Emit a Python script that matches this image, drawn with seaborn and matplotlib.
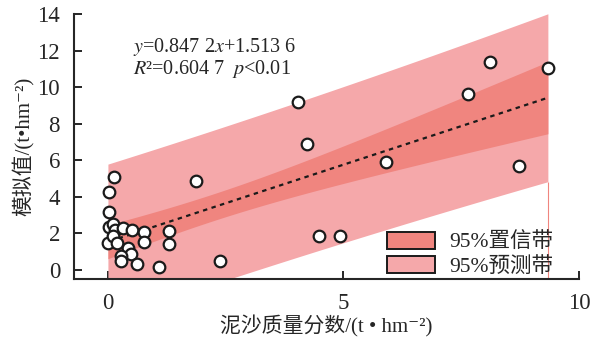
import numpy as np
import pandas as pd
import matplotlib
matplotlib.use("Agg")
import matplotlib.pyplot as plt
from matplotlib.patches import Patch
import seaborn as sns

# sediment mass fraction (x) vs simulated value (y)
sediment = [0.13, 0.03, 0.03, 0.03, 0.10, 0.15, 0.32, 0.52, 0.77, 1.29,
            0.01, 0.10, 0.20, 0.77, 1.29, 0.43, 0.48, 0.27, 0.27, 0.62,
            1.08, 2.37, 1.86, 4.04, 4.23, 5.90, 4.48, 4.93, 8.12, 9.34,
            7.65, 8.72]
simulated = [5.07, 4.25, 3.19, 2.36, 2.51, 2.20, 2.29, 2.18, 2.09, 2.14,
             1.50, 1.87, 1.50, 1.55, 1.41, 1.19, 0.86, 0.77, 0.49, 0.35,
             0.18, 0.49, 4.89, 9.19, 6.91, 5.93, 1.83, 1.83, 11.39, 11.03,
             9.62, 5.71]
legend_labels = ["95%置信带", "95%预测带"]
eq_text = r"$y$=0.847 2$x$+1.513 6"
r2_text = r"$R$²=0.604 7  $p$<0.01"

df = pd.DataFrame({"x": sediment, "y": simulated})

# OLS fit and 95% confidence / prediction bands
x = df["x"].to_numpy()
y = df["y"].to_numpy()
n = len(x)
slope, icpt = np.polyfit(x, y, 1)
resid = y - (slope * x + icpt)
s = np.sqrt(np.sum(resid ** 2) / (n - 2))
sxx = np.sum((x - x.mean()) ** 2)
try:
    from scipy import stats
    tval = stats.t.ppf(0.975, n - 2)
except ImportError:
    tval = 2.042
xs = np.linspace(0, x.max(), 200)
yhat = slope * xs + icpt
ci = tval * s * np.sqrt(1 / n + (xs - x.mean()) ** 2 / sxx)
pi = tval * s * np.sqrt(1 + 1 / n + (xs - x.mean()) ** 2 / sxx)
fit = pd.DataFrame({"x": xs, "y": yhat})

sns.set_style("ticks")
fam = ["Liberation Serif", "DejaVu Sans", "Noto Sans CJK SC"]
plt.rcParams["font.family"] = fam
plt.rcParams["mathtext.fontset"] = "stix"

ci_col = "#f0857f"
pi_col = "#f5a8aa"

fig = plt.figure(figsize=(5.92, 3.42), dpi=100)
ax = fig.add_axes([0.125, 0.184, 0.853, 0.775])

ax.fill_between(xs, yhat - pi, yhat + pi, color=pi_col, lw=0, zorder=1)
ax.fill_between(xs, yhat - ci, yhat + ci, color=ci_col, lw=0, zorder=2)
ax.vlines(x.max(), -0.5, (yhat - pi)[-1], color=ci_col, lw=0.8, zorder=1)

sns.lineplot(data=fit[fit["x"] >= x.min()], x="x", y="y", ax=ax, color="#1a1a1a",
             lw=1.6, linestyle=(0, (2, 2)), zorder=3)
sns.scatterplot(data=df, x="x", y="y", ax=ax, s=70, color="white",
                edgecolor="#1a1a1a", linewidth=1.6, zorder=4)

ax.set_xlim(-0.72, 10)
ax.set_ylim(-0.5, 14)
ax.set_xticks([0, 5, 10])
ax.set_yticks(range(0, 15, 2))
ax.tick_params(direction="in", length=6, width=1.4, labelsize=16.5, pad=10)
for sp in ["left", "bottom"]:
    ax.spines[sp].set_linewidth(1.5)
sns.despine(ax=ax)

ax.set_xlabel("泥沙质量分数/(t • hm⁻²)", fontsize=15, family=fam, labelpad=1)
ax.set_ylabel("模拟值/(t•hm⁻²)", fontsize=15, family=fam, labelpad=2)

ax.text(0.53, 12.2, eq_text, fontsize=14.5, va="center", family="Liberation Serif")
ax.text(0.53, 11.0, r2_text, fontsize=14.5, va="center", family="Liberation Serif")

handles = [Patch(facecolor=ci_col, edgecolor="#1a1a1a", lw=1.4),
           Patch(facecolor=pi_col, edgecolor="#1a1a1a", lw=1.4)]
ax.legend(handles, legend_labels, loc="lower left", bbox_to_anchor=(0.582, -0.065),
          frameon=False, handlelength=2.2, handleheight=0.85, handletextpad=0.7,
          labelspacing=0.15, prop={"family": fam, "size": 15.5})

fig.savefig("out.png", dpi=100)
